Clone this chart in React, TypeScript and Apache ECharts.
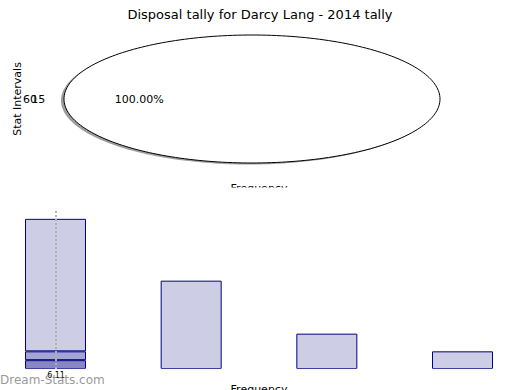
import React, { useEffect, useRef } from "react";
import * as echarts from "echarts";

const titleText = "Disposal tally for Darcy Lang - 2014 tally";
const pieNames = ["15"];
const pieValues = [100];
const pieExtraLabels = ["60"];
const binLabels = ["6-10", "11-15", "16-20", "21-25"];
const lightValues = [7.5, 5, 2, 1];
const midValues = [0.5, null, null, null];
const darkValues = [0.5, null, null, null];
const meanValue = 6.11;

const FONT = "DejaVu Sans";

export default function App() {
  const ref = useRef<HTMLDivElement>(null);
  useEffect(() => {
    if (!ref.current) return;
    const chart = echarts.init(ref.current, null, { renderer: "svg" });
    const total = pieValues.reduce((a, b) => a + b, 0);
    const cx = 252, cy = 99, rx = 188, ry = 64;
    const firstFrac = pieValues[0] / total;
    const startBase = Math.PI - firstFrac * Math.PI;

    const renderPie = (params: any, api: any) => {
      const i = params.dataIndex;
      const v = api.value(0);
      let before = 0;
      for (let k = 0; k < i; k++) before += pieValues[k];
      const frac = v / total;
      const a0 = startBase + (before / total) * 2 * Math.PI;
      const a1 = a0 + frac * 2 * Math.PI;
      const mid = (a0 + a1) / 2;
      const steps = 240;
      const pts: number[][] = [];
      const spts: number[][] = [];
      const full = frac > 0.9999;
      if (!full) { pts.push([cx, cy]); spts.push([cx - 3, cy + 1.5]); }
      for (let s = 0; s <= steps; s++) {
        const a = a0 + ((a1 - a0) * s) / steps;
        pts.push([cx + rx * Math.cos(a), cy - ry * Math.sin(a)]);
        spts.push([cx - 3 + rx * Math.cos(a), cy + 1.5 - ry * Math.sin(a)]);
      }
      return {
        type: "group",
        children: [
          { type: "polygon", shape: { points: spts }, style: { fill: "rgba(77,77,77,0.55)", stroke: "none" } },
          { type: "polygon", shape: { points: pts }, style: { fill: "#ffffff", stroke: "#000000", lineWidth: 1 } },
          {
            type: "text",
            style: {
              x: cx + 0.6 * rx * Math.cos(mid), y: cy - 0.6 * ry * Math.sin(mid),
              text: (frac * 100).toFixed(2) + "%",
              fill: "#000", fontSize: 11, fontFamily: FONT,
              align: "center", verticalAlign: "middle",
            },
          },
          {
            type: "text",
            style: {
              x: cx + 1.1 * rx * Math.cos(mid), y: cy - 1.1 * ry * Math.sin(mid),
              text: pieNames[i],
              fill: "#000", fontSize: 11, fontFamily: FONT,
              align: Math.cos(mid) < 0 ? "right" : "left", verticalAlign: "middle",
            },
          },
        ],
      };
    };

    const barBase = {
      type: "bar",
      stack: "total",
      barWidth: 61,
      xAxisIndex: 0,
      clip: false,
      itemStyle: { borderColor: "#000080", borderWidth: 1 },
      emphasis: { disabled: true },
    };

    chart.setOption({
      animation: false,
      title: {
        text: titleText, left: "center", top: 3,
        textStyle: { fontSize: 13, fontWeight: "normal", color: "#000", fontFamily: FONT },
      },
      grid: { left: 55.5, right: 57.5, top: 210, bottom: 21 },
      xAxis: [
        { type: "category", data: binLabels, boundaryGap: false, show: false },
        { type: "value", min: 6.09, max: 21.09, show: false },
      ],
      yAxis: { type: "value", min: 0, max: 9, show: false },
      series: [
        {
          type: "custom",
          coordinateSystem: "none",
          renderItem: renderPie,
          data: pieValues.map((v, i) => ({ name: pieNames[i], value: [v] })),
          silent: true,
        },
        { ...barBase, name: "dark", data: darkValues, itemStyle: { ...barBase.itemStyle, color: "#8787c3" } },
        { ...barBase, name: "mid", data: midValues, itemStyle: { ...barBase.itemStyle, color: "#a5a5d3" } },
        { ...barBase, name: "light", data: lightValues, itemStyle: { ...barBase.itemStyle, color: "#cdcde6" } },
        {
          type: "scatter",
          xAxisIndex: 1,
          symbolSize: 0,
          silent: true,
          z: 5,
          data: [[meanValue, 0]],
          markLine: {
            silent: true,
            symbol: "none",
            lineStyle: { color: "#b0b0b0", type: [2, 2], width: 2 },
            label: {
              position: "start", formatter: () => meanValue.toFixed(2),
              fontSize: 8, color: "#000", fontFamily: FONT, distance: 2,
            },
            data: [{ xAxis: meanValue }],
          },
        },
      ],
      graphic: [
        { type: "rect", shape: { x: 0, y: 368.7, width: 520, height: 1.5 }, style: { fill: "#fff" }, z: 50 },
        { type: "rect", shape: { x: 493, y: 300, width: 27, height: 70 }, style: { fill: "#fff" }, z: 50 },
        {
          type: "text", x: 17, y: 99, rotation: Math.PI / 2,
          style: { text: "Stat Intervals", fontSize: 11, fontFamily: FONT, fill: "#000", align: "center", verticalAlign: "middle", textAlign: "center", textVerticalAlign: "middle" },
        },
        ...pieExtraLabels.map((t) => ({
          type: "text", x: 37, y: 99,
          style: { text: t, fontSize: 11, fontFamily: FONT, fill: "#000", align: "right", verticalAlign: "middle", textAlign: "right", textVerticalAlign: "middle" },
        })),
        {
          type: "text", x: 259, y: 183,
          style: { text: "Frequency", fontSize: 11, fontFamily: FONT, fill: "#000", align: "center", verticalAlign: "top", textAlign: "center", textVerticalAlign: "top" },
        },
        { type: "rect", shape: { x: 150, y: 187.5, width: 220, height: 12 }, style: { fill: "#fff" }, z: 60 },
        {
          type: "text", x: 259, y: 384,
          style: { text: "Frequency", fontSize: 11, fontFamily: FONT, fill: "#000", align: "center", verticalAlign: "top", textAlign: "center", textVerticalAlign: "top" },
        },
        {
          type: "text", x: 0, y: 380, z: 70,
          style: { text: "Dream-Stats.com", fontSize: 12, fontWeight: "normal", fontFamily: FONT, fill: "rgba(140,140,140,0.9)", align: "left", verticalAlign: "middle", textAlign: "left", textVerticalAlign: "middle" },
        },
      ],
    });
    return () => chart.dispose();
  }, []);
  return <div ref={ref} style={{ width: 520, height: 390, position: "absolute", left: 0, top: 0 }} />;
}
